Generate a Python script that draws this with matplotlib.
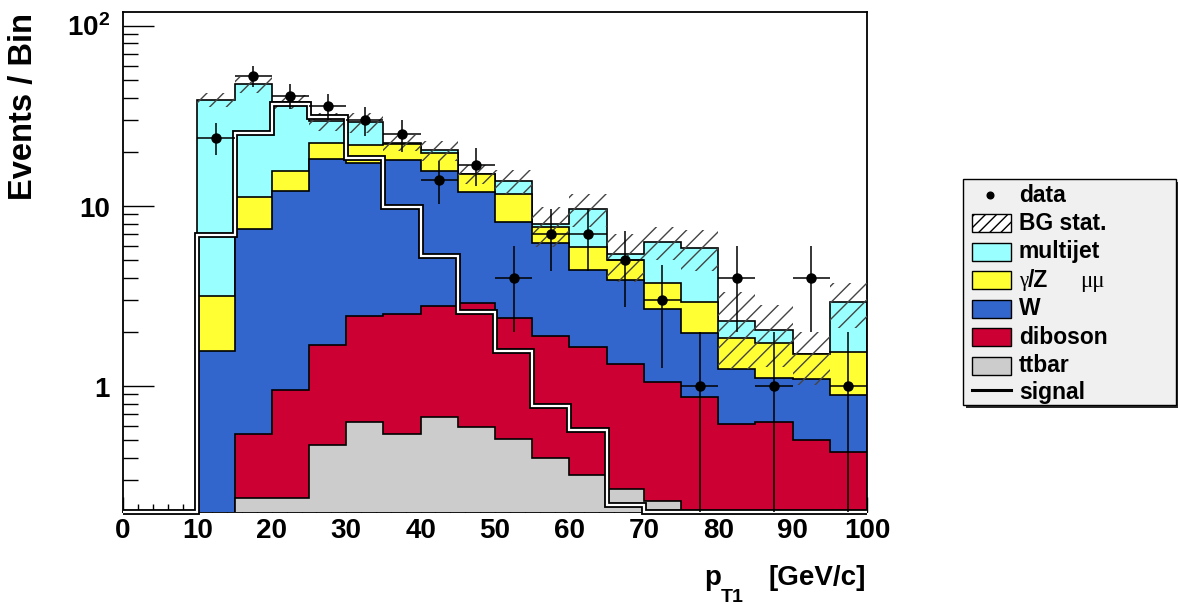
import numpy as np
import matplotlib
matplotlib.use("Agg")
import matplotlib.pyplot as plt
import matplotlib.patheffects as pe
from matplotlib.patches import Rectangle
from matplotlib.lines import Line2D
from matplotlib.ticker import FixedLocator, MultipleLocator, NullFormatter
from matplotlib.transforms import blended_transform_factory

plt.rcParams['font.family'] = ['Liberation Sans', 'DejaVu Sans']
plt.rcParams['font.weight'] = 'bold'
plt.rcParams['mathtext.fontset'] = 'custom'
plt.rcParams['mathtext.rm'] = 'Liberation Sans:bold'
plt.rcParams['mathtext.bf'] = 'Liberation Sans:bold'
plt.rcParams['mathtext.it'] = 'Liberation Sans:bold:italic'
plt.rcParams['hatch.linewidth'] = 1.0

# ---- binning in leading-muon pT (GeV/c) ----
edges = np.arange(10, 101, 5)
signal_edges = np.arange(0, 101, 5)

# ---- observed events per bin ----
data = np.array([24, 53, 41, 36, 30, 25, 14, 17, 4, 7, 7, 5, 3, 1, 4, 1, 4, 1])

# ---- background expectations per bin ----
ttbar    = np.array([0.03, 0.24, 0.24, 0.47, 0.63, 0.54, 0.67, 0.59, 0.51, 0.40,
                     0.32, 0.27, 0.23, 0.12, 0.06, 0.04, 0.03, 0.02])
diboson  = np.array([0.10, 0.30, 0.71, 1.22, 1.83, 1.97, 2.12, 2.31, 1.88, 1.50,
                     1.33, 1.06, 0.83, 0.75, 0.56, 0.59, 0.47, 0.41])
wjets    = np.array([1.44, 6.88, 11.25, 16.51, 14.94, 15.49, 12.81, 9.00, 5.81, 4.30,
                     2.76, 2.55, 1.61, 1.11, 0.63, 0.48, 0.59, 0.46])
zmumu    = np.array([1.60, 3.88, 3.50, 4.10, 4.30, 4.10, 4.20, 3.20, 3.40, 1.50,
                     1.53, 1.13, 1.08, 0.94, 0.60, 0.62, 0.42, 0.66])
multijet = np.array([35.6, 36.1, 22.3, 7.2, 7.5, 0.4, 0.7, 0.0, 2.2, 0.24,
                     3.73, 0.40, 2.59, 2.95, 0.44, 0.32, 0.0, 1.37])
bg_stat  = np.array([3.5, 4.9, 3.3, 3.5, 3.6, 2.4, 2.6, 1.9, 2.1, 2.0,
                     2.0, 1.6, 1.3, 1.5, 1.05, 0.77, 0.5, 0.83])

# ---- signal expectation (0-100 GeV/c) ----
signal = np.array([0, 0, 6.9, 25.3, 36.9, 31.1, 18.4, 9.9, 5.25, 2.57,
                   1.56, 0.78, 0.57, 0.22, 0, 0, 0, 0, 0, 0])

components = [ttbar, diboson, wjets, zmumu, multijet]
colors = ['#cccccc', '#cc0033', '#3366cc', '#ffff33', '#99ffff']

YMIN, YMAX = 0.2, 119.6
W, H = 1178, 604

fig = plt.figure(figsize=(W / 100, H / 100), dpi=100)
ax = fig.add_axes([123 / W, 92 / H, 744 / W, 500 / H])
ax.set_yscale('log')
ax.set_xlim(0, 100)
ax.set_ylim(YMIN, YMAX)
ax.set_axisbelow(True)

# stacked backgrounds, drawn from the full sum downwards
cum = np.cumsum(components, axis=0)
for top, col in reversed(list(zip(cum, colors))):
    ax.stairs(top, edges, baseline=1e-3, fill=True, facecolor=col,
              edgecolor='none', zorder=2)
    ax.stairs(top, edges, baseline=1e-3, fill=False, color='black',
              lw=1.2, zorder=2)

total = cum[-1]
# background statistical uncertainty band
ax.bar(edges[:-1], 2 * bg_stat, width=5, bottom=total - bg_stat, align='edge',
       fill=False, hatch='//', edgecolor='#444444', linewidth=0, zorder=3)

# signal histogram: black outline with white core
sig_vals = np.clip(signal, YMIN, None)
ax.stairs(sig_vals, signal_edges, baseline=None, color='white', lw=1.6,
          zorder=4, clip_on=False,
          path_effects=[pe.Stroke(linewidth=4.2, foreground='black'), pe.Normal()])

# data with Poisson errors
centers = edges[:-1] + 2.5
ax.errorbar(centers, data, yerr=np.sqrt(data), xerr=2.5, fmt='o',
            color='black', ms=6.5, elinewidth=1.1, capsize=0, zorder=5)

# frame and ticks
for name, s in ax.spines.items():
    s.set_linewidth(1.3)
ax.spines['bottom'].set_zorder(1)
ax.xaxis.set_major_locator(MultipleLocator(10))
ax.xaxis.set_minor_locator(MultipleLocator(2))
ax.yaxis.set_major_locator(FixedLocator([1, 10, 100]))
minor_y = [0.3, 0.4, 0.5, 0.6, 0.7, 0.8, 0.9] + list(range(2, 10)) + list(range(20, 100, 10))
ax.yaxis.set_minor_locator(FixedLocator(minor_y))
ax.yaxis.set_major_formatter(NullFormatter())
ax.yaxis.set_minor_formatter(NullFormatter())
ax.tick_params(which='both', direction='in', top=False, right=False, width=1.0)
ax.tick_params(axis='y', which='major', length=22)
ax.tick_params(axis='y', which='minor', length=11)
ax.tick_params(axis='x', which='major', length=11, labelsize=20, pad=4.5)
ax.tick_params(axis='x', which='minor', length=6)

# y tick labels
trans = blended_transform_factory(ax.transAxes, ax.transData)
for val, lab, fs, dy in [(1, '1', 20, -4), (10, '10', 20, -4), (100, r'$10^{2}$', 20, -2)]:
    ax.annotate(lab, xy=(0, val), xycoords=trans, xytext=(-13, dy),
                textcoords='offset pixels', ha='right', va='center',
                fontsize=fs, fontweight='bold')

def fx(x):
    return x / W

def fy(y):
    return 1 - y / H

# axis titles
fig.text(fx(24), fy(13), 'Events / Bin', rotation=90, ha='center', va='top',
         fontsize=23.5, fontweight='bold')
fig.text(fx(704), fy(585), 'p', ha='left', va='baseline', fontsize=20, fontweight='bold')
fig.text(fx(721), fy(602), 'T1', ha='left', va='baseline', fontsize=14, fontweight='bold')
fig.text(fx(866), fy(585), '[GeV/c]', ha='right', va='baseline', fontsize=20, fontweight='bold')

# legend box
LX0, LX1, LY0, LY1 = 963, 1176, 179, 405
lax = fig.add_axes([LX0 / W, 1 - LY1 / H, (LX1 - LX0) / W, (LY1 - LY0) / H])
lax.set_xlim(LX0, LX1)
lax.set_ylim(LY1, LY0)
lax.axis('off')
lax.add_patch(Rectangle((LX0 + 3, LY0 + 3), LX1 - LX0, LY1 - LY0, facecolor='#2a2a2a',
                        edgecolor='none', clip_on=False, zorder=0))
lax.add_patch(Rectangle((LX0, LY0), LX1 - LX0, LY1 - LY0, facecolor='#f0f0f0',
                        edgecolor='black', lw=1.0, clip_on=False, zorder=1))

rows = [195, 223, 251.5, 280, 308.5, 337, 365.5, 392]
bx0, bw, bh = 972, 39, 18
tx = 1019
lfs = 16.5

lax.plot([990], [rows[0]], 'o', color='black', ms=4.8, zorder=3)
lax.text(tx, rows[0], 'data', ha='left', va='center', fontsize=lfs, fontweight='bold', zorder=3)

lax.add_patch(Rectangle((bx0, rows[1] - bh / 2), bw, bh, facecolor='white', edgecolor='black',
                        hatch='///', lw=1.0, zorder=2))
lax.text(tx, rows[1], 'BG stat.', ha='left', va='center', fontsize=lfs, fontweight='bold', zorder=3)

box_entries = [(rows[2], '#99ffff', 'multijet'), (rows[3], '#ffff33', None),
               (rows[4], '#3366cc', 'W'), (rows[5], '#cc0033', 'diboson'),
               (rows[6], '#cccccc', 'ttbar')]
for yy, col, lab in box_entries:
    lax.add_patch(Rectangle((bx0, yy - bh / 2), bw, bh, facecolor=col, edgecolor='black',
                            lw=1.0, zorder=2))
    if lab:
        lax.text(tx, yy, lab, ha='left', va='center', fontsize=lfs, fontweight='bold', zorder=3)

lax.text(tx, rows[3] + 1, 'γ', ha='left', va='center', fontsize=15, fontweight='normal',
         family=['Liberation Serif', 'DejaVu Serif'], zorder=3)
lax.text(tx + 9, rows[3], '/Z', ha='left', va='center', fontsize=lfs, fontweight='bold', zorder=3)
lax.text(1080, rows[3] + 1, 'μμ', ha='left', va='center', fontsize=lfs, fontweight='normal',
         family=['Liberation Serif', 'DejaVu Serif'], zorder=3)

lax.add_line(Line2D([bx0, bx0 + bw], [rows[7] - 2, rows[7] - 2], color='black', lw=2.2, zorder=3))
lax.text(tx, rows[7], 'signal', ha='left', va='center', fontsize=lfs, fontweight='bold', zorder=3)

fig.savefig('out.png', dpi=100)
